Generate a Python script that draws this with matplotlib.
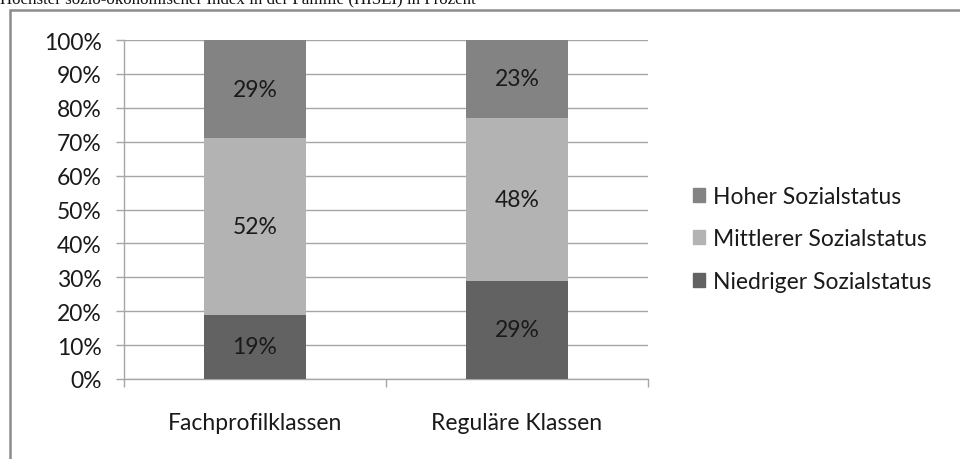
import matplotlib
matplotlib.use("Agg")
import matplotlib.pyplot as plt
from matplotlib.patches import Rectangle, Patch
from matplotlib.ticker import FuncFormatter, FixedLocator

# HISEI-Verteilung nach Klassentyp (Anteile in Prozent)
categories = ["Fachprofilklassen", "Reguläre Klassen"]
niedrig = [19, 29]
mittel = [52, 48]
hoch = [29, 23]
series_labels = ["Niedriger Sozialstatus", "Mittlerer Sozialstatus", "Hoher Sozialstatus"]
series_colors = ["#626262", "#b3b3b3", "#838383"]
title = "Höchster sozio-ökonomischer Index in der Familie (HISEI) in Prozent"

plt.rcParams["font.family"] = ["Lato", "DejaVu Sans"]
fs = 16.5

fig = plt.figure(figsize=(9.6, 4.6), dpi=100)
ax = fig.add_axes([124 / 960, 1 - 380 / 460, (648 - 124) / 960, (380 - 41) / 460])

# Titel, oben abgeschnitten
fig.text(0.0, 1 - 3 / 460, title, family=["Liberation Serif"], fontsize=12.2,
         color="#111111", ha="left", va="baseline")

# Rahmen um das Diagramm
fig.patches.append(Rectangle((10 / 960, -0.1), 1.0, 1.1 - 11 / 460,
                             transform=fig.transFigure, fill=False,
                             edgecolor="#8c8c8c", linewidth=1.8))

x = range(len(categories))
width = 0.39
bottom = [0] * len(categories)
for vals, label, color in zip([niedrig, mittel, hoch], series_labels, series_colors):
    ax.bar(x, vals, width, bottom=bottom, color=color, label=label, zorder=3)
    for xi, v, b in zip(x, vals, bottom):
        ax.text(xi, b + v / 2, f"{v}%", ha="center", va="center",
                fontsize=fs, color="#1a1a1a", zorder=4)
    bottom = [b + v for b, v in zip(bottom, vals)]

ax.set_xlim(-0.5, 1.5)
ax.set_ylim(0, 100)
ax.set_yticks(range(0, 101, 10))
ax.yaxis.set_major_formatter(FuncFormatter(lambda v, _: f"{v:.0f}%"))
ax.grid(axis="y", color="#a6a6a6", linewidth=1, zorder=0)

ax.set_xticks(list(x))
ax.set_xticklabels(categories)
ax.xaxis.set_minor_locator(FixedLocator([-0.5, 0.5, 1.5]))
ax.tick_params(axis="x", which="major", length=0, pad=24, labelsize=fs, labelcolor="#1a1a1a")
ax.tick_params(axis="x", which="minor", length=6, color="#a6a6a6", width=1)
ax.tick_params(axis="y", length=6, color="#a6a6a6", width=1, labelsize=fs,
               labelcolor="#1a1a1a", pad=10)

for side in ["top", "right"]:
    ax.spines[side].set_visible(False)
for side in ["left", "bottom"]:
    ax.spines[side].set_color("#a6a6a6")
    ax.spines[side].set_linewidth(1)

handles = [Patch(color=c, label=l) for c, l in zip(series_colors, series_labels)][::-1]
fig.legend(handles=handles, loc="center left", bbox_to_anchor=(672 / 960, 1 - 240 / 460),
           frameon=False, fontsize=fs, handlelength=0.55, handleheight=0.55,
           handletextpad=0.35, labelspacing=0.95, labelcolor="#1a1a1a")

fig.savefig("out.png", dpi=100, facecolor="white")
